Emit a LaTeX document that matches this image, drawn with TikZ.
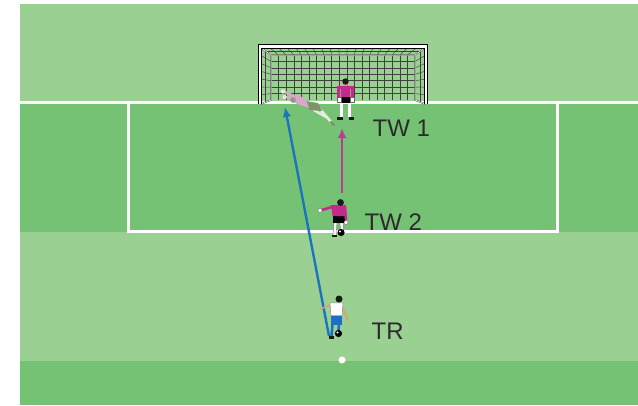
\documentclass[tikz,border=0pt]{standalone}
\usepackage{fontspec}
\setmainfont{Liberation Sans}
\usetikzlibrary{arrows.meta}
\definecolor{pitchlight}{HTML}{9BD093}
\definecolor{pitchdark}{HTML}{75C275}
\definecolor{shotblue}{HTML}{1C75BC}
\definecolor{runpink}{HTML}{B83E93}
\definecolor{kitpink}{HTML}{C22A8C}
\definecolor{skin}{HTML}{D9A07A}
\definecolor{hair}{HTML}{1A1A1A}
\definecolor{inkgray}{HTML}{2B2B2B}
\definecolor{shortblue}{HTML}{1F6FC0}
\definecolor{ghostshirt}{HTML}{D9A6CC}
\definecolor{ghostshort}{HTML}{7F9468}
\definecolor{ghostlight}{HTML}{E4EEDC}
\definecolor{ghosthead}{HTML}{8E9C7E}
\begin{document}
\begin{tikzpicture}[x=1pt,y=-1pt,
  chalk/.style={white,line width=3pt},
  netline/.style={black!75,line width=0.45pt},
  lbl/.style={text=inkgray,font=\fontsize{24}{24}\selectfont,inner sep=0pt,anchor=base west},
  move/.style={line width=2.4pt,-{Latex[length=10pt,width=8.5pt]}},
  limb/.style={line width=2.6pt,line cap=round},
  sock/.style={white,line width=2.4pt},
  sockedge/.style={black!55,line width=3.2pt},
]
\useasboundingbox (0,0) rectangle (638,405);
% pitch
\fill[white] (0,0) rectangle (638,405);
\fill[pitchlight] (20,4) rectangle (638,405);
\fill[pitchdark] (20,103) rectangle (638,232);
\fill[pitchdark] (20,361) rectangle (638,405);
% markings
\draw[chalk] (20,102.5) -- (638,102.5);
\draw[chalk,line join=miter] (128,102.5) -- (128,231) -- (557.5,231) -- (557.5,102.5);
\fill[white] (342,360) circle (3.5);

% goal: back net
\foreach \i in {1,...,18}
  \draw[netline] ({271+\i*144/19},55) -- ({271+\i*144/19},100);
\foreach \j in {1,...,6}
  \draw[netline] (271,{55+\j*45/7}) -- (415,{55+\j*45/7});
% goal: roof net
\foreach \i in {0,...,19}
  \draw[netline] ({271+\i*144/19},55) -- ({260+\i*166/19},47);
\draw[netline] (265.5,51) -- (420.5,51);
% goal: side nets
\foreach \j in {1,...,6}{
  \draw[netline] (271,{55+\j*45/7}) -- (260,{47+\j*56/7});
  \draw[netline] (415,{55+\j*45/7}) -- (426,{47+\j*56/7});
}
\draw[netline] (265.5,51) -- (265.5,101.5);
\draw[netline] (420.5,51) -- (420.5,101.5);
% goal: back frame
\draw[black!70,line width=1.4pt] (260,47) -- (271,55) -- (415,55) -- (426,47);
\draw[black!70,line width=1.4pt] (271,55) -- (271,100) -- (261,104);
\draw[black!70,line width=1.4pt] (415,55) -- (415,100) -- (425,104);
\draw[white,line width=0.5pt] (260,47) -- (271,55) -- (415,55) -- (426,47);
\draw[white,line width=0.5pt] (271,55) -- (271,100) -- (261,104);
\draw[white,line width=0.5pt] (415,55) -- (415,100) -- (425,104);
% goal: posts and crossbar
\draw[black,line width=4.2pt,line join=miter] (260,104) -- (260,46.5) -- (426,46.5) -- (426,104);
\draw[white,line width=2.2pt,line join=miter] (260,104) -- (260,46.5) -- (426,46.5) -- (426,104);

% movement arrows
\coordinate (shotstart) at (329,336);
\coordinate (shotend) at (285,107);
\coordinate (runstart) at (342,193);
\coordinate (runend) at (342,128);
\draw[move,shotblue] (shotstart) -- (shotend);
\draw[move,runpink] (runstart) -- (runend);

% diving goalkeeper (faded)
\draw[ghostlight,limb] (319,108) -- (332,123);
\draw[ghostlight,limb] (314,110) -- (326,117);
\draw[ghostshort,limb] (331,122) -- (334,125);
\fill[ghostshort] (306,101) -- (318,103) -- (322,111) -- (309,110) -- cycle;
\fill[ghostshirt] (289,93) -- (305,98) -- (309,108) -- (292,102) -- cycle;
\draw[ghostshirt,limb] (291,95) -- (285,92);
\draw[ghostshirt,limb] (293,99) -- (286,97);
\fill[ghostlight] (283,91.5) circle (2.2);
\fill[ghostlight] (284.5,97) circle (2);
\fill[ghosthead] (293,100) circle (2.8);

% standing goalkeeper TW 1
\draw[sockedge] (341.5,103) -- (341.5,117);
\draw[sock] (341.5,103) -- (341.5,117);
\draw[sockedge] (349.5,103) -- (349.5,117);
\draw[sock] (349.5,103) -- (349.5,117);
\fill[hair] (337,116.5) rectangle (342.5,120);
\fill[hair] (348.5,116.5) rectangle (353.5,120);
\fill[black] (339.5,95) rectangle (351.5,103);
\fill[kitpink] (337,86) -- (354,86) -- (354,97) -- (337,97) -- cycle;
\draw[black!40,line width=0.3pt] (340.5,89) -- (340.5,97) (350.5,89) -- (350.5,97);
\fill[white,draw=black!60,line width=0.3pt] (337,97) rectangle (341,102);
\fill[white,draw=black!60,line width=0.3pt] (350,97) rectangle (354,102);
\fill[skin] (345.5,83) circle (3.2);
\fill[hair] (345.5,81.5) circle (3.2);

% goalkeeper TW 2
\draw[sockedge] (335.5,223) -- (334.5,235);
\draw[sock] (335.5,223) -- (334.5,235);
\draw[sockedge] (341.5,223) -- (342,230);
\draw[sock] (341.5,223) -- (342,230);
\fill[hair] (331.5,234.5) rectangle (336.5,237);
\fill[black] (332.5,215) rectangle (344.5,223);
\fill[kitpink] (331,205) -- (346,205) -- (345.5,216) -- (332.5,216) -- cycle;
\draw[kitpink,limb] (332,207) -- (322,210);
\draw[kitpink,limb] (345,207) -- (346,220);
\fill[white,draw=black!60,line width=0.3pt] (320,210.5) circle (2);
\fill[white,draw=black!60,line width=0.3pt] (346,222.5) circle (2);
\fill[hair] (340.5,202.5) circle (3.4);
\fill[black] (341,232.5) circle (3.6);
\fill[white] (340,231.5) circle (1.1);

% striker TR
\draw[skin,line width=1.6pt,line cap=round] (331,305) -- (320,309);
\draw[skin,line width=1.6pt,line cap=round] (342,306) -- (348,320);
\draw[shortblue,limb] (332.5,324) -- (331.5,336);
\draw[shortblue,limb] (339,324) -- (338.5,330);
\fill[hair] (328.5,336) rectangle (333.5,338.5);
\fill[shortblue] (330.5,314.5) rectangle (341.5,324.5);
\fill[white,draw=black!50,line width=0.4pt] (330,303) -- (343,303) -- (342,315.5) -- (331,315.5) -- cycle;
\fill[hair] (339,299) circle (3.5);
\fill[black] (338.5,333.5) circle (3.6);
\fill[white] (337.5,332.5) circle (1.1);

% labels
\node[lbl] (tw1) at (372.5,136.5) {TW 1};
\node[lbl] (tw2) at (364.5,230.5) {TW 2};
\node[lbl] (tr) at (371.5,339.5) {TR};
\end{tikzpicture}
\end{document}
